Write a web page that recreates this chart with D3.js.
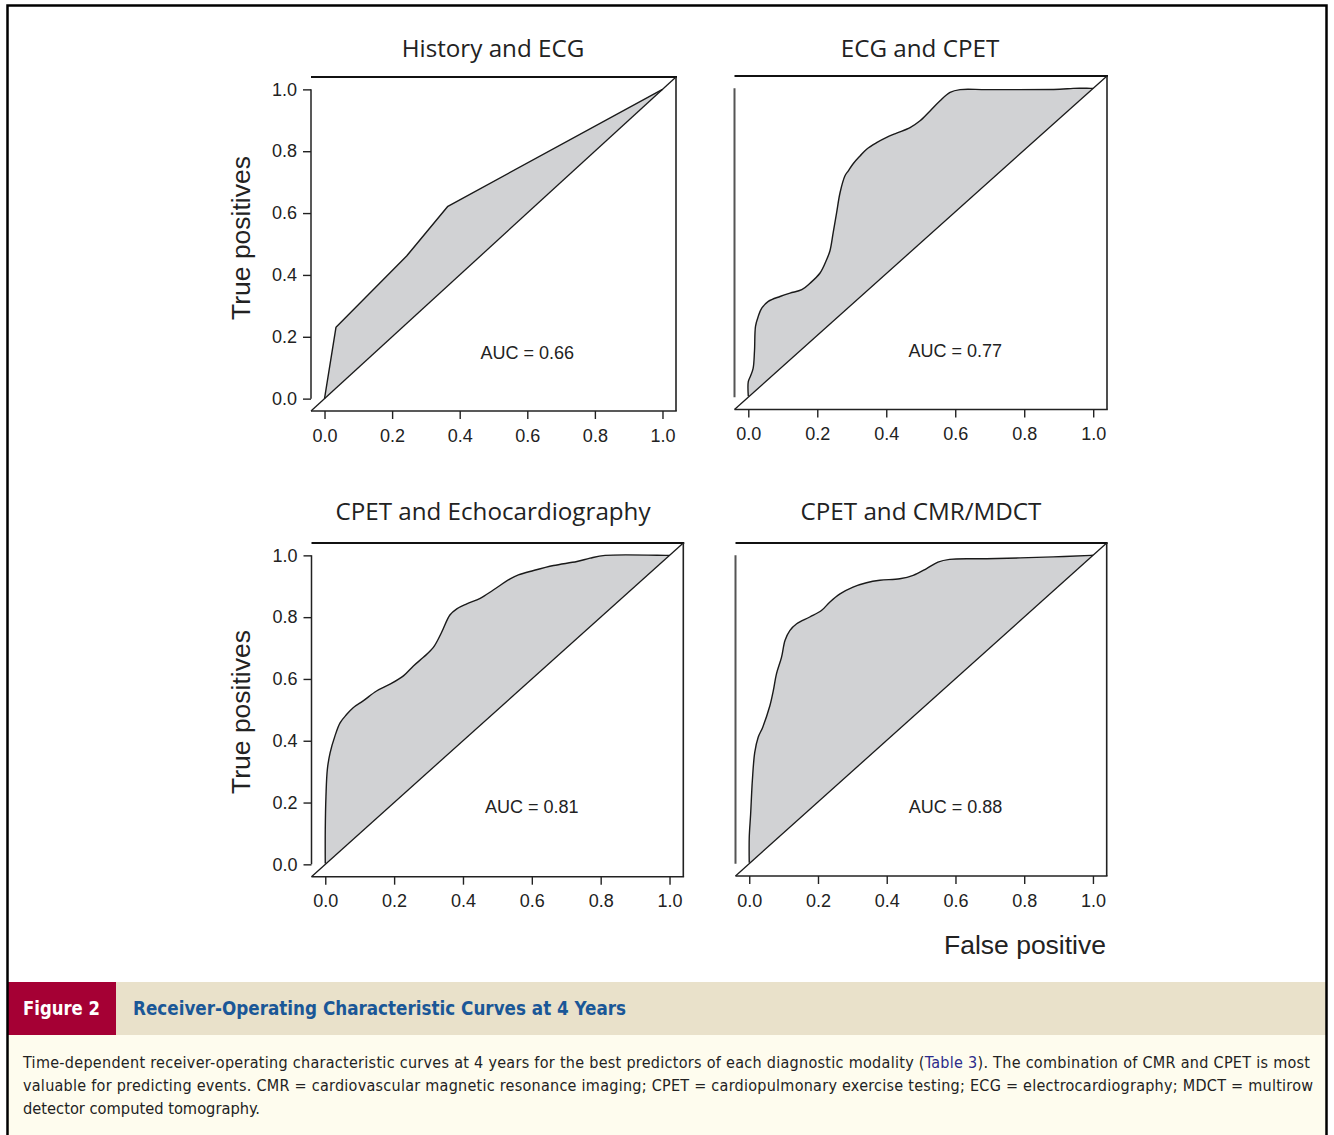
<!DOCTYPE html>
<html>
<head>
<meta charset="utf-8">
<script src="https://cdn.jsdelivr.net/npm/d3@7"></script>
<style>
  html, body { margin: 0; padding: 0; background: #ffffff; }
  svg { display: block; }
</style>
</head>
<body>
<svg id="chart" width="1334" height="1135"></svg>
<script>
// ---------------- DATA ----------------
const panelTitles = ["History and ECG", "ECG and CPET", "CPET and Echocardiography", "CPET and CMR/MDCT"];
const aucLabels = ["AUC = 0.66", "AUC = 0.77", "AUC = 0.81", "AUC = 0.88"];
const aucY = [0.15, 0.15, 0.185, 0.185];
const tickValues = [0, 0.2, 0.4, 0.6, 0.8, 1.0];
const tickLabels = ["0.0", "0.2", "0.4", "0.6", "0.8", "1.0"];
const yAxisTitle = "True positives";
const xAxisTitle = "False positive";

// ROC curves: [false positive rate, true positive rate]
const rocHistoryECG = [
  [0, 0], [0.034, 0.231], [0.243, 0.461], [0.365, 0.622], [1, 1]
];
const rocECGCPET = [
  [0, 0.003], [0, 0.05], [0.007, 0.07], [0.014, 0.093], [0.018, 0.15], [0.021, 0.23],
  [0.029, 0.262], [0.039, 0.288], [0.058, 0.31], [0.092, 0.326], [0.121, 0.337],
  [0.155, 0.348], [0.179, 0.369], [0.208, 0.402], [0.227, 0.445], [0.237, 0.475],
  [0.246, 0.532], [0.256, 0.597], [0.266, 0.662], [0.280, 0.716], [0.290, 0.733],
  [0.304, 0.756], [0.324, 0.781], [0.343, 0.803], [0.372, 0.824], [0.401, 0.841],
  [0.430, 0.855], [0.469, 0.873], [0.498, 0.895], [0.527, 0.927], [0.556, 0.960],
  [0.585, 0.987], [0.614, 0.996], [0.691, 0.996], [0.903, 0.997], [0.942, 1.0],
  [0.992, 1.0], [1, 1]
];
const rocCPETEcho = [
  [0, 0.003], [0, 0.112], [0.002, 0.22], [0.006, 0.307], [0.014, 0.361], [0.028, 0.415],
  [0.043, 0.458], [0.062, 0.485], [0.081, 0.507], [0.110, 0.529], [0.149, 0.561],
  [0.188, 0.583], [0.227, 0.610], [0.256, 0.642], [0.285, 0.670], [0.314, 0.702],
  [0.338, 0.751], [0.362, 0.807], [0.382, 0.827], [0.411, 0.843], [0.450, 0.861],
  [0.488, 0.888], [0.537, 0.924], [0.561, 0.937], [0.605, 0.951], [0.663, 0.967],
  [0.731, 0.980], [0.769, 0.991], [0.813, 1.0], [0.992, 1.0], [1, 1]
];
const rocCPETCMR = [
  [0, 0.003], [0, 0.085], [0.004, 0.16], [0.009, 0.269], [0.016, 0.361], [0.026, 0.41],
  [0.039, 0.442], [0.060, 0.512], [0.070, 0.561], [0.079, 0.615], [0.094, 0.670],
  [0.104, 0.724], [0.118, 0.756], [0.138, 0.778], [0.176, 0.800], [0.210, 0.821],
  [0.234, 0.848], [0.264, 0.875], [0.302, 0.897], [0.341, 0.911], [0.380, 0.919],
  [0.438, 0.924], [0.477, 0.935], [0.516, 0.957], [0.549, 0.978], [0.583, 0.987],
  [0.690, 0.989], [0.884, 0.995], [0.995, 1.0], [1, 1]
];
const rocCurves = [rocHistoryECG, rocECGCPET, rocCPETEcho, rocCPETCMR];

const figureLabel = "Figure 2";
const figureTitle = "Receiver-Operating Characteristic Curves at 4 Years";
const captionLines = [
  ["Time-dependent receiver-operating characteristic curves at 4 years for the best predictors of each diagnostic modality (", "Table 3", "). The combination of CMR and CPET is most"],
  ["valuable for predicting events. CMR = cardiovascular magnetic resonance imaging; CPET = cardiopulmonary exercise testing; ECG = electrocardiography; MDCT = multirow"],
  ["detector computed tomography."]
];

// ---------------- LAYOUT ----------------
const svg = d3.select("#chart");
const W = 1334, H = 1135;

// plot boxes (pixel extents of the plotting region)
const boxes = [
  { left: 311, right: 676, top: 77, bottom: 411, yLabels: true, titleX: 493, titleY: 57 },
  { left: 734.5, right: 1107, top: 76, bottom: 409.5, yLabels: false, titleX: 920, titleY: 57 },
  { left: 311.5, right: 683.3, top: 543, bottom: 876.7, yLabels: true, titleX: 493, titleY: 520 },
  { left: 735.5, right: 1106.7, top: 543, bottom: 876, yLabels: false, titleX: 921, titleY: 520 }
];

const tickFont = "'Liberation Sans', Arial, Helvetica, sans-serif";
const titleFont = "'Open Sans', 'Noto Sans', sans-serif";
const narrowFont = "'Liberation Sans Narrow', 'DejaVu Sans Condensed', 'Liberation Sans', sans-serif";

svg.append("rect").attr("x", 0).attr("y", 0).attr("width", W).attr("height", H).attr("fill", "#ffffff");

boxes.forEach((b, i) => {
  const x = d3.scaleLinear().domain([-0.04, 1.04]).range([b.left, b.right]);
  const y = d3.scaleLinear().domain([-0.04, 1.04]).range([b.bottom, b.top]);
  const g = svg.append("g");
  const curve = rocCurves[i];

  const lineGen = d3.line()
    .x(d => x(d[0])).y(d => y(d[1]))
    .curve(i === 0 ? d3.curveLinear : d3.curveCatmullRom.alpha(0.5));

  // fill between curve and diagonal
  g.append("path")
    .attr("d", lineGen(curve) + "L" + x(0) + "," + y(0) + "Z")
    .attr("fill", "#d1d2d4")
    .attr("stroke", "none");

  // diagonal chance line across the whole box
  g.append("line")
    .attr("x1", x(-0.04)).attr("y1", y(-0.04))
    .attr("x2", x(1.04)).attr("y2", y(1.04))
    .attr("stroke", "#1a1a1a").attr("stroke-width", 1.3);

  // ROC curve
  g.append("path")
    .attr("d", lineGen(curve))
    .attr("fill", "none")
    .attr("stroke", "#1a1a1a")
    .attr("stroke-width", 1.4)
    .attr("stroke-linejoin", "round");

  // box: top, right, bottom
  g.append("line").attr("x1", b.left).attr("x2", b.right + 1).attr("y1", b.top).attr("y2", b.top)
    .attr("stroke", "#111").attr("stroke-width", 2.2);
  g.append("line").attr("x1", b.right).attr("x2", b.right).attr("y1", b.top).attr("y2", b.bottom)
    .attr("stroke", "#222").attr("stroke-width", 1.6);
  g.append("line").attr("x1", b.left).attr("x2", b.right + 0.8).attr("y1", b.bottom).attr("y2", b.bottom)
    .attr("stroke", "#222").attr("stroke-width", 1.6);

  // x axis ticks & labels
  const xAxis = d3.axisBottom(x).tickValues(tickValues).tickFormat((d, k) => tickLabels[k])
    .tickSize(8).tickSizeOuter(0).tickPadding(10);
  const xg = g.append("g").attr("transform", `translate(0,${b.bottom})`).call(xAxis);
  xg.select(".domain").remove();
  xg.selectAll(".tick line").attr("stroke", "#222").attr("stroke-width", 1.4);
  xg.selectAll(".tick text").attr("font-family", tickFont).attr("font-size", 18).attr("fill", "#222");

  // y axis
  if (b.yLabels) {
    const yAxis = d3.axisLeft(y).tickValues(tickValues).tickFormat((d, k) => tickLabels[k])
      .tickSize(8).tickSizeOuter(0).tickPadding(6);
    const yg = g.append("g").attr("transform", `translate(${b.left},0)`).call(yAxis);
    yg.select(".domain").remove();
    yg.selectAll(".tick line").attr("stroke", "#222").attr("stroke-width", 1.4);
    yg.selectAll(".tick text").attr("font-family", tickFont).attr("font-size", 18).attr("fill", "#222");
  }
  g.append("line").attr("x1", b.left).attr("x2", b.left).attr("y1", y(0)).attr("y2", y(1))
    .attr("stroke", b.yLabels ? "#222" : "#555").attr("stroke-width", b.yLabels ? 1.5 : 2);

  // AUC label
  g.append("text")
    .attr("x", x(0.6)).attr("y", y(aucY[i])).attr("dy", "0.35em")
    .attr("text-anchor", "middle")
    .attr("font-family", tickFont).attr("font-size", 18).attr("fill", "#222")
    .text(aucLabels[i]);

  // panel title
  g.append("text")
    .attr("x", b.titleX).attr("y", b.titleY)
    .attr("text-anchor", "middle")
    .attr("font-family", titleFont).attr("font-size", 24.2).attr("fill", "#222")
    .text(panelTitles[i]);

  // y axis title
  if (b.yLabels) {
    const cy = i === 0 ? 238 : 712;
    g.append("text")
      .attr("transform", `translate(250,${cy}) rotate(-90)`)
      .attr("text-anchor", "middle")
      .attr("font-family", tickFont).attr("font-size", 26.5).attr("fill", "#222")
      .text(yAxisTitle);
  }
});

// x axis title
svg.append("text")
  .attr("x", 1106).attr("y", 954)
  .attr("text-anchor", "end")
  .attr("font-family", tickFont).attr("font-size", 26.5).attr("fill", "#222")
  .text(xAxisTitle);

// ---------------- CAPTION ----------------
svg.append("rect").attr("x", 8).attr("y", 1035).attr("width", 1318).attr("height", 100).attr("fill", "#fefcee");
svg.append("rect").attr("x", 8).attr("y", 982).attr("width", 1318).attr("height", 53).attr("fill", "#e9e1ca");
svg.append("rect").attr("x", 8).attr("y", 982).attr("width", 108).attr("height", 53).attr("fill", "#a50034");

svg.append("text")
  .attr("x", 23).attr("y", 1015)
  .attr("font-family", narrowFont).attr("font-weight", "bold").attr("font-size", 19.5)
  .attr("fill", "#ffffff")
  .attr("textLength", 77).attr("lengthAdjust", "spacingAndGlyphs")
  .text(figureLabel);

svg.append("text")
  .attr("x", 133).attr("y", 1015)
  .attr("font-family", narrowFont).attr("font-weight", "bold").attr("font-size", 19.5)
  .attr("fill", "#1a5797")
  .attr("textLength", 493).attr("lengthAdjust", "spacingAndGlyphs")
  .text(figureTitle);

const capBase = [1067.5, 1090.5, 1113.5];
const capLen = [1287, 1290, null];
captionLines.forEach((parts, k) => {
  const t = svg.append("text")
    .attr("x", 23).attr("y", capBase[k])
    .attr("font-family", narrowFont).attr("font-size", 16).attr("fill", "#222");
  parts.forEach((p, j) => {
    t.append("tspan").attr("fill", (k === 0 && j === 1) ? "#2b2a8a" : "#222").text(p);
  });
  if (capLen[k]) t.attr("textLength", capLen[k]).attr("lengthAdjust", "spacing");
  else t.attr("textLength", 237).attr("lengthAdjust", "spacingAndGlyphs");
});

// outer border (top, left, right)
svg.append("path")
  .attr("d", "M7.5,1135 L7.5,5.5 L1326.5,5.5 L1326.5,1135")
  .attr("fill", "none").attr("stroke", "#000").attr("stroke-width", 2.5);
</script>
</body>
</html>
